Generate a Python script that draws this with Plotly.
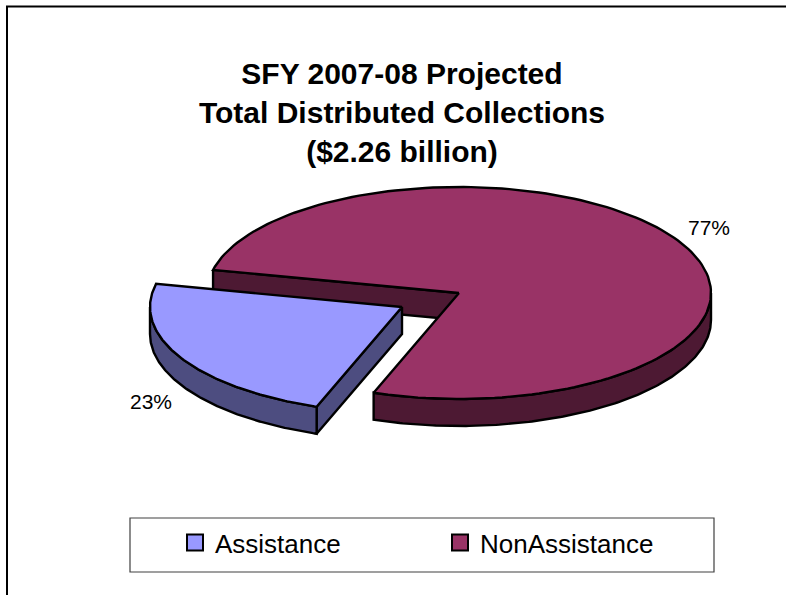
import numpy as np
import plotly.graph_objects as go

categories = ["Assistance", "NonAssistance"]
shares = [23, 77]
top_colors = ["#9999FF", "#993366"]
side_colors = ["#4D4D80", "#4D1933"]
title_lines = ["SFY 2007-08 Projected", "Total Distributed Collections", "($2.26 billion)"]

W, H = 786, 595
CX, CY, RX, RY, DEPTH = 459, 293, 252, 106, 27
EXPLODE = (-57, 14)
START = 199.8  # clockwise from 12 o'clock


def pt(t, ox=0.0, oy=0.0, d=0.0):
    t = np.radians(t)
    return CX + ox + RX * np.sin(t), CY + oy - RY * np.cos(t) + d


def arc(a, b, ox=0.0, oy=0.0, d=0.0):
    return pt(np.linspace(a, b, 160), ox, oy, d)


fig = go.Figure()


def poly(x, y, color):
    fig.add_trace(go.Scatter(
        x=list(x), y=list(y), mode="lines", fill="toself", fillcolor=color,
        line=dict(color="black", width=2.4), showlegend=False, hoverinfo="skip"))


def wall(a, b, color, ox=0.0, oy=0.0):
    x0, y0 = arc(a, b, ox, oy)
    x1, y1 = arc(b, a, ox, oy, DEPTH)
    poly(np.r_[x0, x1, x0[0]], np.r_[y0, y1, y0[0]], color)


def face(t, color, ox=0.0, oy=0.0):
    xe, ye = pt(t, ox, oy)
    xc, yc = CX + ox, CY + oy
    poly([xe, xc, xc, xe, xe], [ye, yc, yc + DEPTH, ye + DEPTH, ye], color)


def top(a, b, color, ox=0.0, oy=0.0):
    x, y = arc(a, b, ox, oy)
    xc, yc = CX + ox, CY + oy
    poly(np.r_[xc, x, xc], np.r_[yc, y, yc], color)


a_end = START + shares[0] / sum(shares) * 360
n_end = START + 360

# NonAssistance (back piece)
face(a_end, side_colors[1])
wall(360 + 90, n_end, side_colors[1])
top(a_end, n_end, top_colors[1])

# Assistance (exploded piece)
ox, oy = EXPLODE
face(START, side_colors[0], ox, oy)
wall(START, 270, side_colors[0], ox, oy)
top(START, a_end, top_colors[0], ox, oy)

# legend entries
for name, color in zip(categories, top_colors):
    fig.add_trace(go.Scatter(
        x=[None], y=[None], mode="markers", name=name,
        marker=dict(symbol="square", size=18, color=color, line=dict(color="black", width=2))))

FONT = "Liberation Sans, Arial, sans-serif"
fig.update_layout(
    width=W, height=H, margin=dict(l=0, r=0, t=0, b=0),
    autosize=False,
    paper_bgcolor="white", plot_bgcolor="white",
    xaxis=dict(range=[0, W], visible=False, fixedrange=True),
    yaxis=dict(range=[H, 0], visible=False, fixedrange=True),
    font=dict(family=FONT, color="black"),
    title=dict(text="<br>".join(title_lines), x=402 / W, xanchor="center", y=1 - 84 / H, yanchor="top",
               font=dict(size=30, family=FONT, color="black", weight="bold")),
    legend=dict(orientation="h", x=175 / W, xanchor="left", y=1 - 519 / H, yanchor="top",
                bgcolor="rgba(0,0,0,0)", borderwidth=0, font=dict(size=26, family=FONT),
                entrywidth=220, entrywidthmode="pixels", itemclick=False, itemdoubleclick=False),
    shapes=[
        dict(type="rect", x0=130, x1=714, y0=518, y1=572, line=dict(color="#404040", width=1.2), layer="below"),
        dict(type="path", path=f"M 7 {H} L 7 6.5 L {W} 6.5", line=dict(color="black", width=2), layer="below"),
    ],
    annotations=[
        dict(x=151, y=401, text=f"{shares[0]}%", showarrow=False, font=dict(size=21, family=FONT)),
        dict(x=709, y=227, text=f"{shares[1]}%", showarrow=False, font=dict(size=21, family=FONT)),
    ],
)
fig.write_html("out.html", config=dict(displayModeBar=False),
               post_script="document.body.style.margin='0';")
